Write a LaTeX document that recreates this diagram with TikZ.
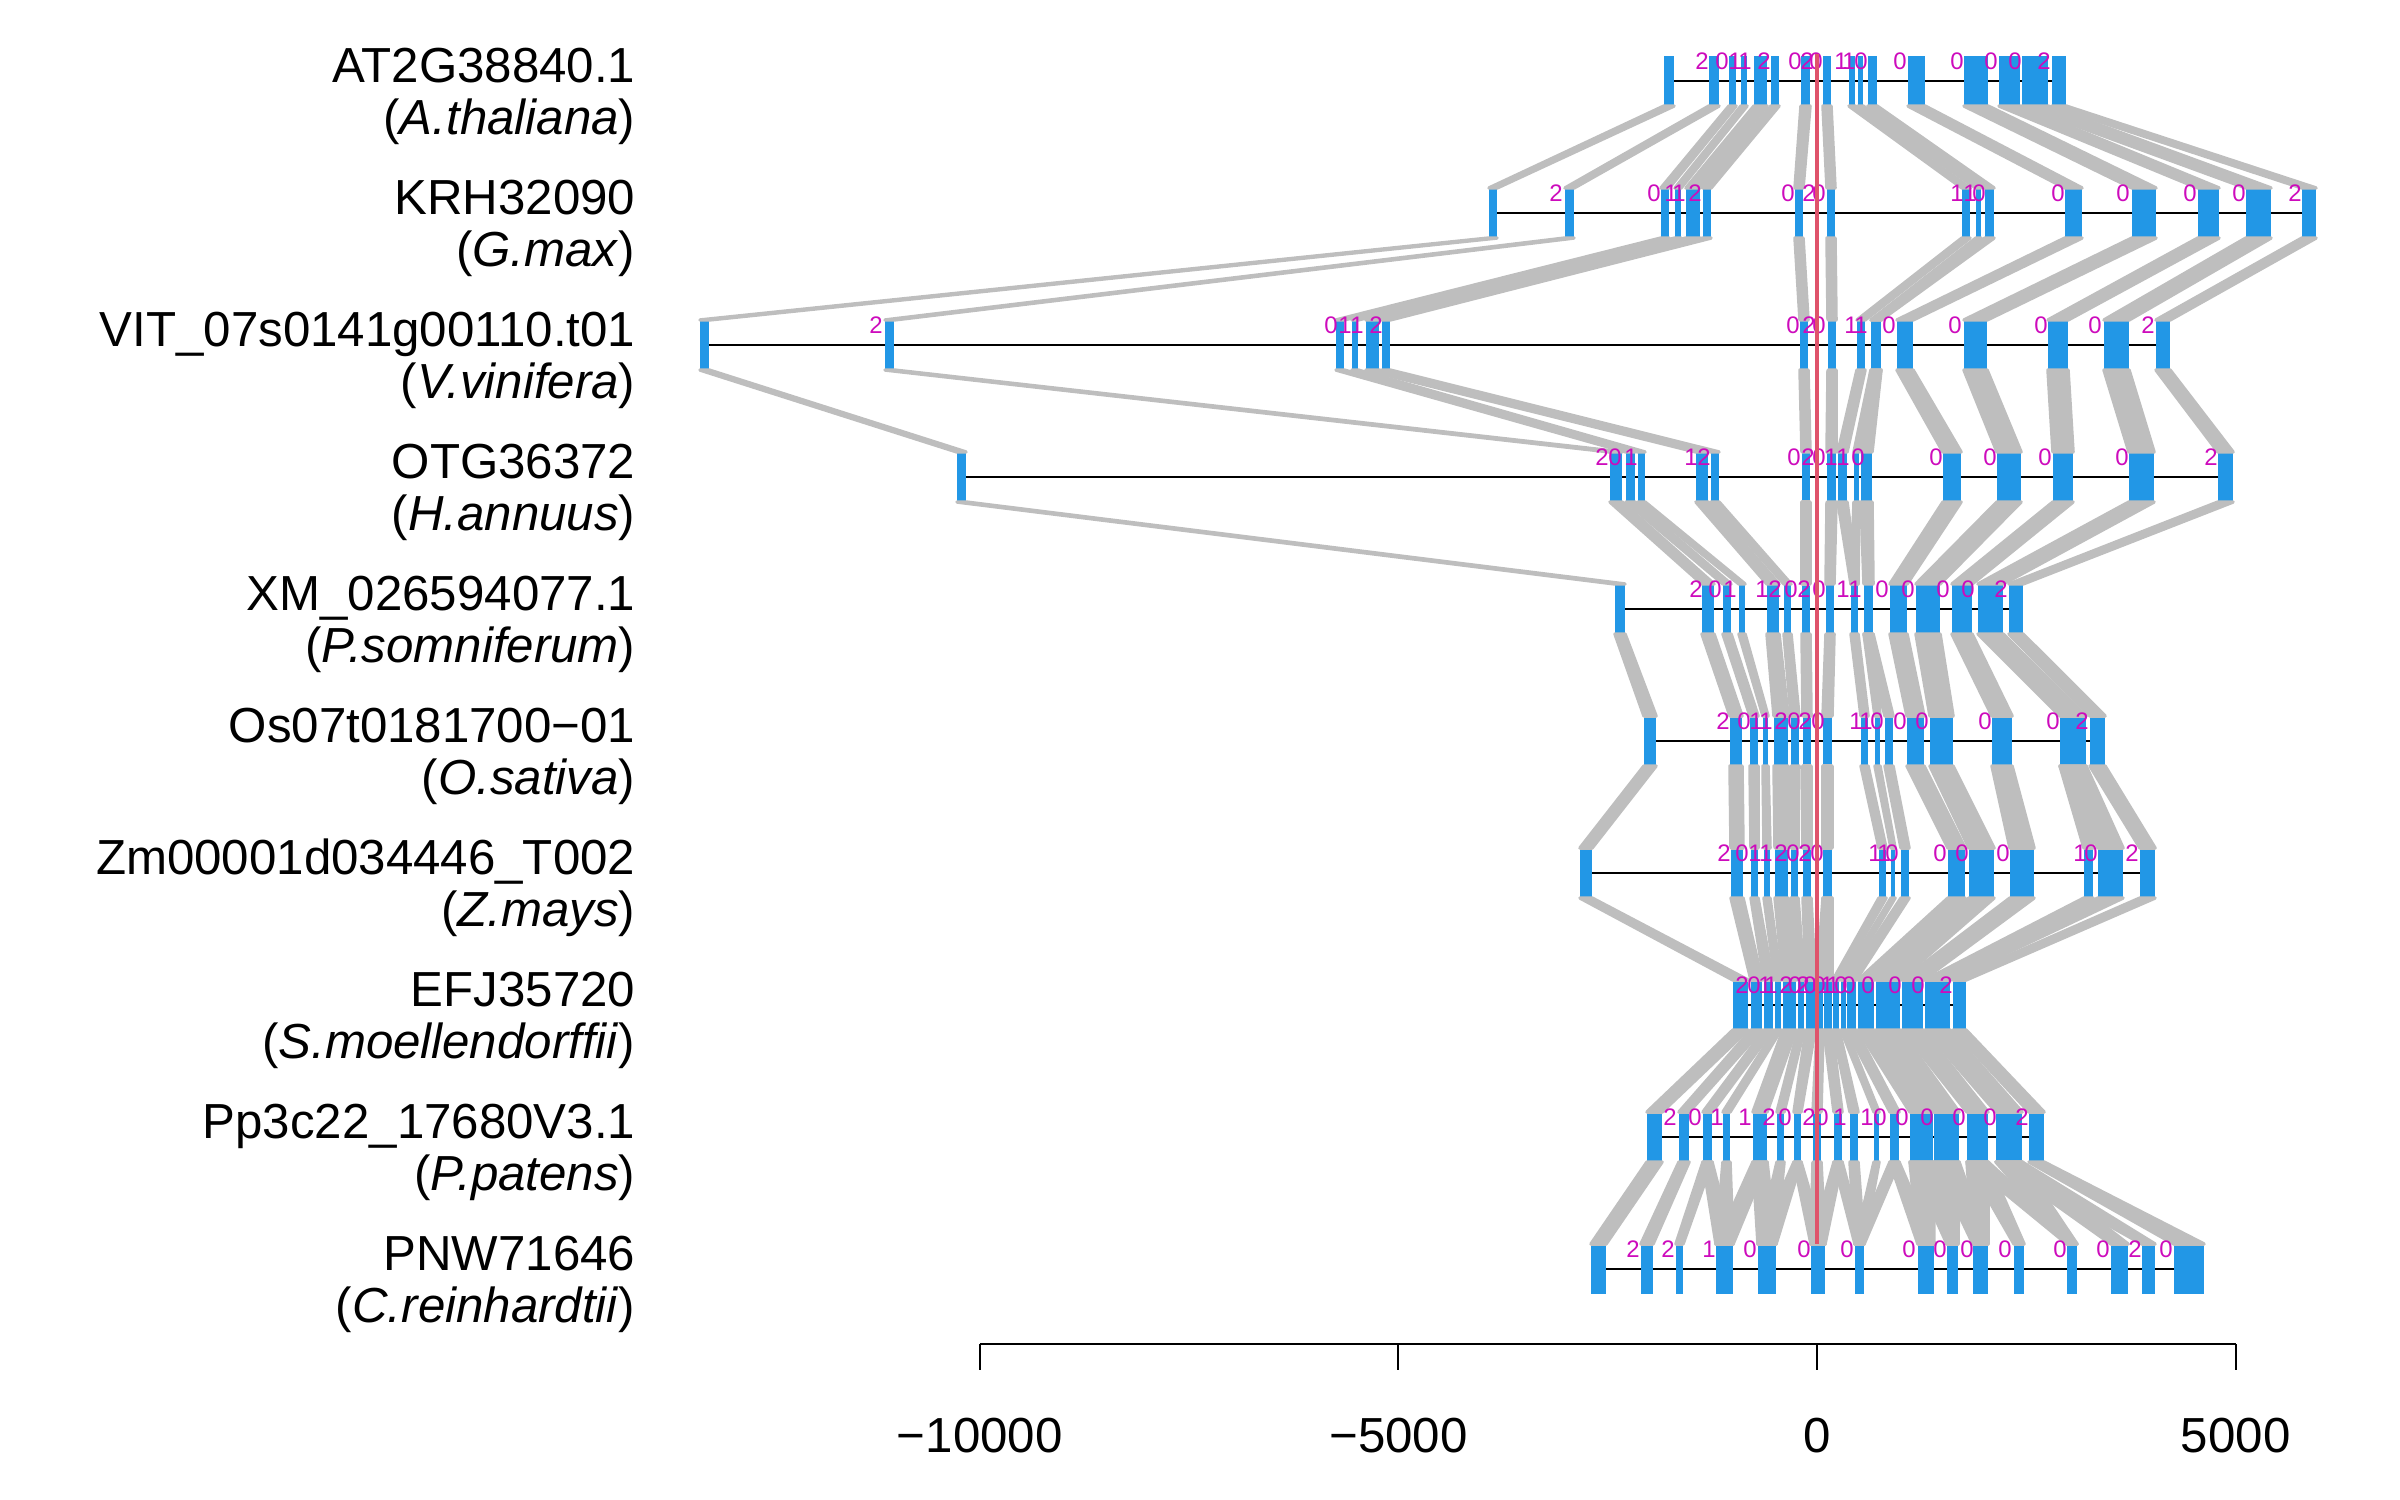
\documentclass[tikz,border=0pt]{standalone}
\usepackage{fontspec}
\setmainfont{Liberation Sans}
\usetikzlibrary{backgrounds}

\definecolor{exonblue}{HTML}{2297E6}
\definecolor{phasemag}{HTML}{CD0BBC}
\definecolor{zerored}{HTML}{DF536B}
\definecolor{linkgray}{HTML}{BEBEBE}

% exons of each gene (start/end)
\newcommand{\exA}{1664/1674,1709/1719,1729/1736,1741/1747,1754/1767,1771/1779,1801/1810,1823/1831,1849/1855,1858/1863,1868/1877,1908/1925,1964/1988,1999/2020,2022/2048,2052/2066}
\newcommand{\exB}{1489/1497,1565/1574,1661/1669,1675/1681,1686/1700,1703/1711,1795/1803,1827/1835,1962/1970,1976/1981,1985/1994,2065/2082,2132/2156,2198/2219,2246/2271,2302/2316}
\newcommand{\exC}{700/709,885/894,1336/1344,1352/1358,1366/1379,1382/1390,1800/1808,1828/1836,1857/1865,1871/1881,1897/1913,1964/1987,2048/2068,2104/2129,2156/2170}
\newcommand{\exD}{957/966,1610/1622,1626/1635,1638/1645,1696/1708,1711/1719,1802/1810,1827/1836,1838/1847,1854/1859,1861/1872,1943/1961,1997/2021,2053/2073,2129/2154,2218/2233}
\newcommand{\exE}{1615/1625,1702/1714,1723/1731,1739/1745,1767/1779,1784/1791,1802/1810,1826/1834,1851/1858,1864/1873,1890/1907,1916/1940,1952/1972,1978/2003,2009/2023}
\newcommand{\exF}{1644/1656,1730/1742,1750/1758,1763/1768,1774/1788,1791/1799,1803/1811,1823/1832,1861/1868,1875/1880,1885/1893,1907/1924,1930/1953,1992/2012,2060/2086,2090/2105}
\newcommand{\exG}{1580/1592,1731/1743,1751/1758,1764/1770,1775/1788,1791/1798,1803/1811,1823/1832,1879/1886,1891/1895,1901/1909,1948/1965,1969/1994,2010/2034,2084/2093,2098/2123,2140/2155}
\newcommand{\exH}{1733/1748,1751/1762,1764/1773,1775/1781,1783/1796,1798/1804,1806/1815,1817/1823,1824/1832,1833/1839,1841/1846,1847/1856,1858/1874,1876/1900,1902/1923,1925/1950,1953/1966}
\newcommand{\exI}{1647/1662,1679/1689,1703/1712,1723/1730,1753/1767,1777/1784,1794/1801,1813/1821,1834/1842,1850/1858,1874/1879,1890/1899,1910/1933,1934/1959,1967/1988,1996/2022,2029/2044}
\newcommand{\exJ}{1591/1606,1641/1653,1676/1683,1716/1733,1758/1776,1811/1825,1855/1864,1918/1934,1947/1958,1973/1988,2014/2024,2067/2077,2111/2128,2142/2155,2174/2204}

% intron phases (x/phase)
\newcommand{\phA}{1702/2,1722/0,1735/1,1745/1,1764/2,1795/0,1807/2,1816/0,1841/1,1849/1,1861/0,1900/0,1957/0,1991/0,2015/0,2044/2}
\newcommand{\phB}{1556/2,1654/0,1671/1,1679/1,1695/2,1788/0,1809/2,1819/0,1957/1,1970/1,1979/0,2058/0,2123/0,2190/0,2239/0,2295/2}
\newcommand{\phC}{876/2,1331/0,1345/1,1357/1,1376/2,1793/0,1809/2,1819/0,1851/1,1861/1,1889/0,1955/0,2041/0,2095/0,2148/2}
\newcommand{\phD}{1602/2,1615/0,1631/1,1691/1,1704/2,1794/0,1808/2,1819/0,1831/1,1843/1,1858/0,1936/0,1990/0,2045/0,2122/0,2211/2}
\newcommand{\phE}{1696/2,1715/0,1730/1,1762/1,1775/2,1791/0,1804/2,1819/0,1843/1,1855/1,1882/0,1908/0,1943/0,1968/0,2001/2}
\newcommand{\phF}{1723/2,1744/0,1756/1,1766/1,1781/2,1794/0,1805/2,1818/0,1856/1,1866/1,1877/0,1900/0,1922/0,1985/0,2053/0,2082/2}
\newcommand{\phG}{1724/2,1742/0,1755/1,1766/1,1781/2,1793/0,1805/2,1817/0,1875/1,1884/1,1892/0,1940/0,1962/0,2003/0,2080/1,2091/0,2132/2}
\newcommand{\phH}{1742/2,1754/0,1765/1,1771/1,1786/2,1795/0,1803/2,1810/0,1819/0,1827/1,1833/1,1841/0,1849/0,1868/0,1895/0,1918/0,1946/2}
\newcommand{\phI}{1670/2,1695/0,1717/1,1745/1,1769/2,1785/0,1809/2,1822/0,1840/1,1867/1,1880/0,1902/0,1927/0,1959/0,1990/0,2022/2}
\newcommand{\phJ}{1633/2,1668/2,1709/1,1750/0,1804/0,1847/0,1909/0,1940/0,1967/0,2005/0,2060/0,2103/0,2135/2,2166/0}

% aligned exons of neighbouring genes (upper/lower)
\newcommand{\mapA}{1/1,2/2,3/3,4/4,5/5,6/6,7/7,8/8,9/9,10/10,11/11,12/12,13/13,14/14,15/15,16/16}
\newcommand{\mapB}{1/1,2/2,3/3,4/4,5/5,6/6,7/7,8/8,9/9,10/10,11/10,12/11,13/12,14/13,15/14,16/15}
\newcommand{\mapC}{1/1,2/2,3/3,4/4,5/5,6/6,7/7,8/8,9/9,10/10,10/11,11/12,12/13,13/14,14/15,15/16}
\newcommand{\mapD}{1/1,2/2,3/3,4/4,5/5,6/6,7/7,8/8,9/9,10/9,11/10,12/11,13/12,14/13,15/14,16/15}
\newcommand{\mapE}{1/1,2/2,3/3,4/4,5/5,6/6,7/7,8/8,9/9,10/10,10/11,11/12,12/13,13/14,14/15,15/16}
\newcommand{\mapF}{1/1,2/2,3/3,4/4,5/5,6/6,7/7,8/8,9/9,10/10,11/11,12/12,13/13,14/14,15/15,15/16,16/17}
\newcommand{\mapG}{1/1,2/2,3/3,4/4,5/5,6/6,7/7,8/8,8/9,9/10,10/11,11/12,12/13,13/14,14/15,15/16,16/16,17/17}
\newcommand{\mapH}{1/1,2/2,3/3,4/4,5/5,6/6,7/7,8/8,9/9,10/10,11/11,12/12,13/13,14/14,15/15,16/16,17/17}
\newcommand{\mapI}{1/1,2/2,3/3,3/4,4/4,5/4,5/5,6/5,7/5,7/6,8/6,9/6,9/7,10/7,11/7,12/7,12/8,13/8,13/9,14/9,14/10,15/10,15/11,15/12,16/12,16/13,16/14,17/15}

\begin{document}
\begin{tikzpicture}
	[x=0.01cm,y=-0.01cm,
	 exon/.style={rectangle,fill=exonblue,draw=none,inner sep=0pt,outer sep=0pt,minimum height=0.5cm},
	 link/.style={fill=linkgray,draw=linkgray,line width=1pt,line join=round},
	 gene/.style={draw=black,line width=0.7pt},
	 phase/.style={text=phasemag,inner sep=0pt,font=\fontsize{6.8}{7}\selectfont},
	 gname/.style={anchor=east,align=right,inner sep=0pt,font=\fontsize{14}{14.8}\selectfont},
	 axis/.style={draw=black,line width=0.6pt},
	 ticklab/.style={inner sep=0pt,font=\fontsize{14}{14.8}\selectfont}]
	\useasboundingbox (0,0) rectangle (2400,1500);
	
	% exons
	\foreach \rw/\y/\ex in {1/81/\exA,2/213/\exB,3/345/\exC,4/477/\exD,5/609/\exE,6/741/\exF,7/873/\exG,8/1005/\exH,9/1137/\exI,10/1269/\exJ}{
		\edef\lst{\ex}
		\foreach \a/\b [count=\ix] in \lst {
			\pgfmathsetmacro{\exw}{(\b-\a)*0.01}
			\node[exon,minimum width=\exw cm] (e\rw-\ix) at ({(\a+\b)/2},\y) {};
		}
	}
	
	% gene lines
	\begin{pgfonlayer}{background}
		\foreach \rw/\last in {1/16,2/16,3/15,4/16,5/15,6/16,7/17,8/17,9/17,10/15}
		\draw[gene] (e\rw-1.center) -- (e\rw-\last.center);
	\end{pgfonlayer}
	
	% links
	\foreach \rw/\nx/\mp in {1/2/\mapA,2/3/\mapB,3/4/\mapC,4/5/\mapD,5/6/\mapE,6/7/\mapF,7/8/\mapG,8/9/\mapH,9/10/\mapI}{
		\edef\lst{\mp}
		\foreach \src/\dst in \lst
		\filldraw[link] (e\rw-\src.south west) -- (e\rw-\src.south east) -- (e\nx-\dst.north east) -- (e\nx-\dst.north west) -- cycle;
	}
	
	% phases
	\foreach \rw/\y/\lb in {1/81/\phA,2/213/\phB,3/345/\phC,4/477/\phD,5/609/\phE,6/741/\phF,7/873/\phG,8/1005/\phH,9/1137/\phI,10/1269/\phJ}{
		\edef\lst{\lb}
		\foreach \x/\ph [count=\ix] in \lst
		\node[phase] (p\rw-\ix) at (\x,{\y-20}) {\ph};
	}
	
	% names
	\foreach \rw/\y/\gn/\sp in {1/81/AT2G38840.1/A.thaliana,2/213/KRH32090/G.max,3/345/VIT\_07s0141g00110.t01/V.vinifera,4/477/OTG36372/H.annuus,5/609/XM\_026594077.1/P.somniferum,6/741/Os07t0181700−01/O.sativa,7/873/Zm00001d034446\_T002/Z.mays,8/1005/EFJ35720/S.moellendorffii,9/1137/Pp3c22\_17680V3.1/P.patens,10/1269/PNW71646/C.reinhardtii}
	\node[gname] (g\rw) at (636,{\y+15}) {\gn\\(\textit{\sp})};
	
	% zero line
	\coordinate (zt) at (1817,54);
	\coordinate (zb) at (1817,1244);
	\draw[zerored,line width=0.9pt] (zt) -- (zb);
	
	% axis
	\foreach \val/\lab [count=\ix] in {-10000/−10000,-5000/−5000,0/0,5000/5000}{
		\coordinate (t\ix) at ({1817+\val*0.08372},1344);
		\draw[axis] (t\ix) -- ++(0,26);
		\node[ticklab] (l\ix) at ({1817+\val*0.08372},1436) {\lab};
	}
	\draw[axis] (t1) -- (t4);
	
\end{tikzpicture}
\end{document}
